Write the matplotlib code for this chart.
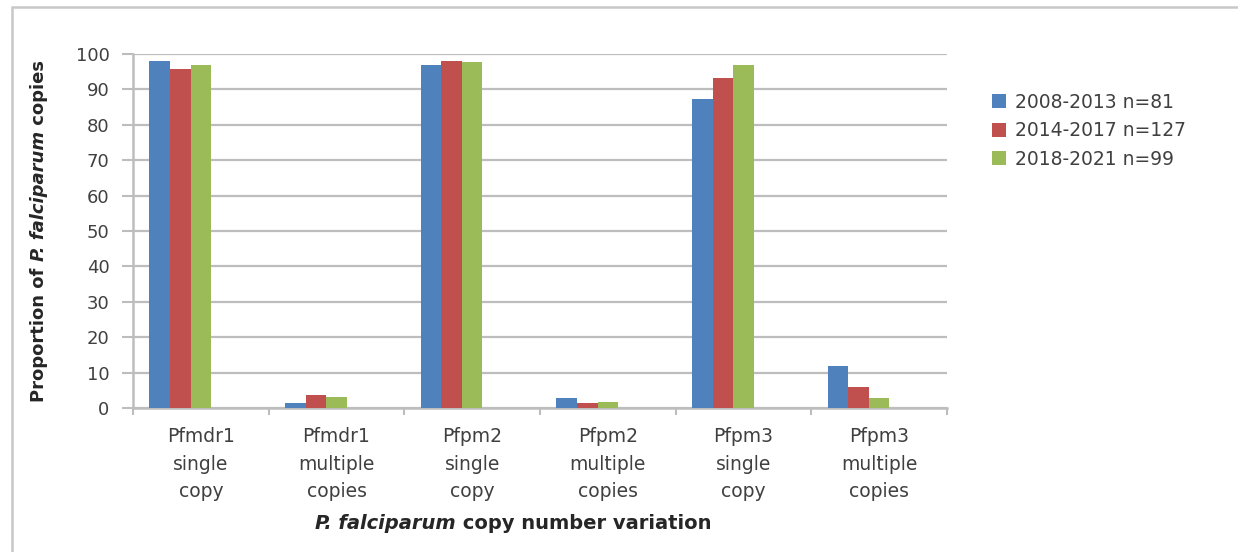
import numpy as np
import matplotlib.pyplot as plt
from matplotlib.patches import Rectangle

plt.rcParams['font.family'] = ['DejaVu Sans']

categories = ['Pfmdr1\nsingle\ncopy', 'Pfmdr1\nmultiple\ncopies', 'Pfpm2\nsingle\ncopy',
              'Pfpm2\nmultiple\ncopies', 'Pfpm3\nsingle\ncopy', 'Pfpm3\nmultiple\ncopies']
series_names = ['2008-2013 n=81', '2014-2017 n=127', '2018-2021 n=99']
vals_2008 = [98.1, 1.5, 97.0, 2.8, 87.4, 12.0]
vals_2014 = [95.9, 3.8, 98.1, 1.4, 93.3, 6.0]
vals_2018 = [96.9, 3.0, 97.8, 1.7, 96.9, 2.7]
colors = ['#4F81BD', '#C0504D', '#9BBB59']

grey = '#BDBDBD'
txt = '#404040'

fig = plt.figure(figsize=(12.38, 5.52), dpi=100)
fig.patches.append(Rectangle((12 / 1238, -0.1), 1.2, 1 - 7 / 552 + 0.1, transform=fig.transFigure,
                             fill=False, edgecolor='#C8C8C8', linewidth=1.8, zorder=0))

ax = fig.add_axes([133 / 1238, 1 - 408 / 552, (947 - 133) / 1238, (408 - 54) / 552])
x = np.arange(len(categories))
w = 0.152
for k, (vals, c, name) in enumerate(zip([vals_2008, vals_2014, vals_2018], colors, series_names)):
    ax.bar(x + (k - 2) * w, vals, width=w, color=c, label=name, zorder=3)

ax.set_xlim(-0.5, len(categories) - 0.5)
ax.set_ylim(0, 100)
ax.set_yticks(np.arange(0, 101, 10))
ax.yaxis.grid(True, color=grey, linewidth=1.6, zorder=0)
ax.set_xticks(x)
ax.set_xticklabels(categories, fontsize=13.5, color=txt, linespacing=1.55)
ax.set_xticks(np.arange(-0.5, len(categories), 1), minor=True)
ax.tick_params(axis='x', which='major', length=0, pad=14)
ax.tick_params(axis='x', which='minor', length=5, color=grey, width=1.5)
ax.tick_params(axis='y', length=8, color=grey, width=1.5, labelsize=13, labelcolor=txt, pad=9)
for s in ['top', 'right']:
    ax.spines[s].set_visible(False)
for s in ['left', 'bottom']:
    ax.spines[s].set_color(grey)
    ax.spines[s].set_linewidth(1.8)

ax.legend(loc='upper left', bbox_to_anchor=(975 / 1238, 1 - 76 / 552), bbox_transform=fig.transFigure,
          frameon=False, fontsize=13.5, handlelength=0.75, handleheight=0.75, handletextpad=0.5,
          labelspacing=0.5, labelcolor=txt)

# x axis title: italic part + plain bold part
t1 = fig.text(0, 0, 'P. falciparum', fontsize=14, fontweight='bold', style='italic', color='#262626',
              ha='left', va='baseline')
t2 = ax.annotate(' copy number variation', xy=(1, 0), xycoords=t1, fontsize=14, fontweight='bold',
                 color='#262626', ha='left', va='bottom')

# y axis title, rotated
u1 = fig.text(0, 0, 'Proportion of ', fontsize=13, fontweight='bold', color='#262626',
              rotation=90, ha='left', va='bottom')
u2 = ax.annotate('P. falciparum', xy=(0, 1), xycoords=u1, fontsize=13, fontweight='bold', style='italic',
                 color='#262626', rotation=90, ha='left', va='bottom')
u3 = ax.annotate(' copies', xy=(0, 1), xycoords=u2, fontsize=13, fontweight='bold',
                 color='#262626', rotation=90, ha='left', va='bottom')

fig.canvas.draw()
r = fig.canvas.get_renderer()
b1 = t1.get_window_extent(r)
b2 = t2.get_window_extent(r)
total = b2.x1 - b1.x0
cx = 513
t1.set_position(((cx - total / 2) / 1238, 1 - 529 / 552))

c1 = u1.get_window_extent(r)
c3 = u3.get_window_extent(r)
total_h = c3.y1 - c1.y0
cy = 552 - 231
u1.set_position((30 / 1238, (cy - total_h / 2) / 552))

fig.savefig('out.png', dpi=100)
